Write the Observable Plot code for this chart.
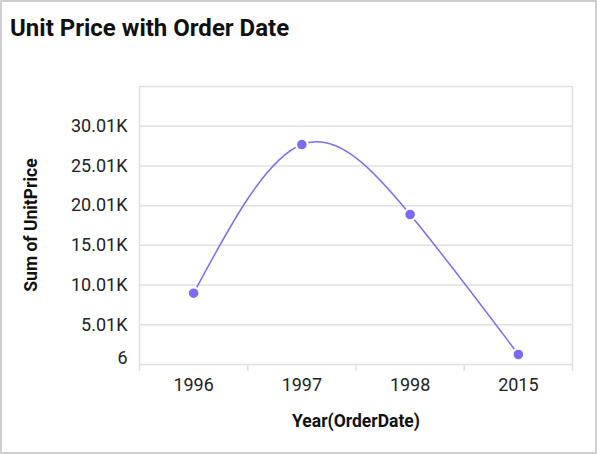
<!DOCTYPE html>
<html>
<head>
<meta charset="utf-8">
<script src="https://cdn.jsdelivr.net/npm/d3@7"></script>
<script src="https://cdn.jsdelivr.net/npm/@observablehq/plot@0.6"></script>
<style>
  body { margin: 0; background: #fff; font-family: Roboto, sans-serif; }
  #frame { position: relative; width: 597px; height: 454px; overflow: hidden; }
  #frame::after { content: ""; position: absolute; inset: 0; border: 2px solid #cfcfcf; pointer-events: none; }
  #title { position: absolute; left: 10px; top: 14px; font-size: 24px; line-height: 28px; font-weight: 700; color: #111; white-space: nowrap; }
  .axis-label { position: absolute; font-size: 17.5px; font-weight: 700; color: #111; white-space: nowrap; line-height: 20px; }
  #ylabel { left: 31px; top: 225px; transform: translate(-50%, -50%) rotate(-90deg); }
  #xlabel { left: 356px; top: 421px; transform: translate(-50%, -50%); }
  #chart { position: absolute; left: 0; top: 0; }
</style>
</head>
<body>
<div id="frame">
  <div id="chart"></div>
  <div id="title">Unit Price with Order Date</div>
  <div id="ylabel" class="axis-label">Sum of UnitPrice</div>
  <div id="xlabel" class="axis-label">Year(OrderDate)</div>
</div>
<script>
// Sum of UnitPrice per order year.
const years = ["1996", "1997", "1998", "2015"];
const unitPrice = [8980, 27700, 18890, 1265];

const yDomain = [6, 35006];
const yTicks = [6, 5006, 10006, 15006, 20006, 25006, 30006];
const yTickLabels = ["6", "5.01K", "10.01K", "15.01K", "20.01K", "25.01K", "30.01K"];

(function () {
  const rows = years.map((year, i) => ({ i, year, value: unitPrice[i] }));
  const idx = years.map((_, i) => i);
  const bounds = [...idx.map((i) => i - 0.5), years.length - 0.5];
  const labelOf = (v) => yTickLabels[yTicks.indexOf(v)];
  const grid = "#e0e0e0";
  const ink = "#222";
  const color = "#7b6cf4";
  const tickFont = 18;

  const fig = Plot.plot({
    width: 597,
    height: 454,
    marginLeft: 139,
    marginRight: 25,
    marginTop: 86,
    marginBottom: 90,
    style: { fontFamily: "Roboto, sans-serif", background: "transparent" },
    x: { type: "linear", domain: [bounds[0], bounds[bounds.length - 1]], label: null },
    y: { domain: yDomain, label: null },
    marks: [
      Plot.gridY(yTicks, { stroke: grid, strokeOpacity: 1, strokeWidth: 1.5 }),
      Plot.ruleY([yDomain[1]], { stroke: grid, strokeWidth: 1.5 }),
      Plot.ruleX([bounds[0], bounds[bounds.length - 1]], { stroke: grid, strokeWidth: 1.5 }),
      Plot.axisX(bounds, { tickSize: 7, tickFormat: () => "", stroke: grid, strokeWidth: 1.5, label: null }),
      Plot.axisX(idx, { tickSize: 0, tickPadding: 14, tickFormat: (i) => years[i], fontSize: tickFont, fill: ink, label: null }),
      Plot.axisY(yTicks.slice(1), { tickSize: 0, tickPadding: 12, tickFormat: labelOf, fontSize: tickFont, fill: ink, label: null }),
      Plot.axisY(yTicks.slice(0, 1), { tickSize: 0, tickPadding: 12, tickFormat: labelOf, fontSize: tickFont, fill: ink, dy: -6, label: null }),
      Plot.line(rows, { x: "i", y: "value", curve: "natural", stroke: color, strokeWidth: 1.5 }),
      Plot.dot(rows, { x: "i", y: "value", r: 5.8, fill: color, stroke: "#fff", strokeWidth: 2 }),
    ],
  });
  document.getElementById("chart").replaceChildren(fig);
})();
</script>
</body>
</html>
